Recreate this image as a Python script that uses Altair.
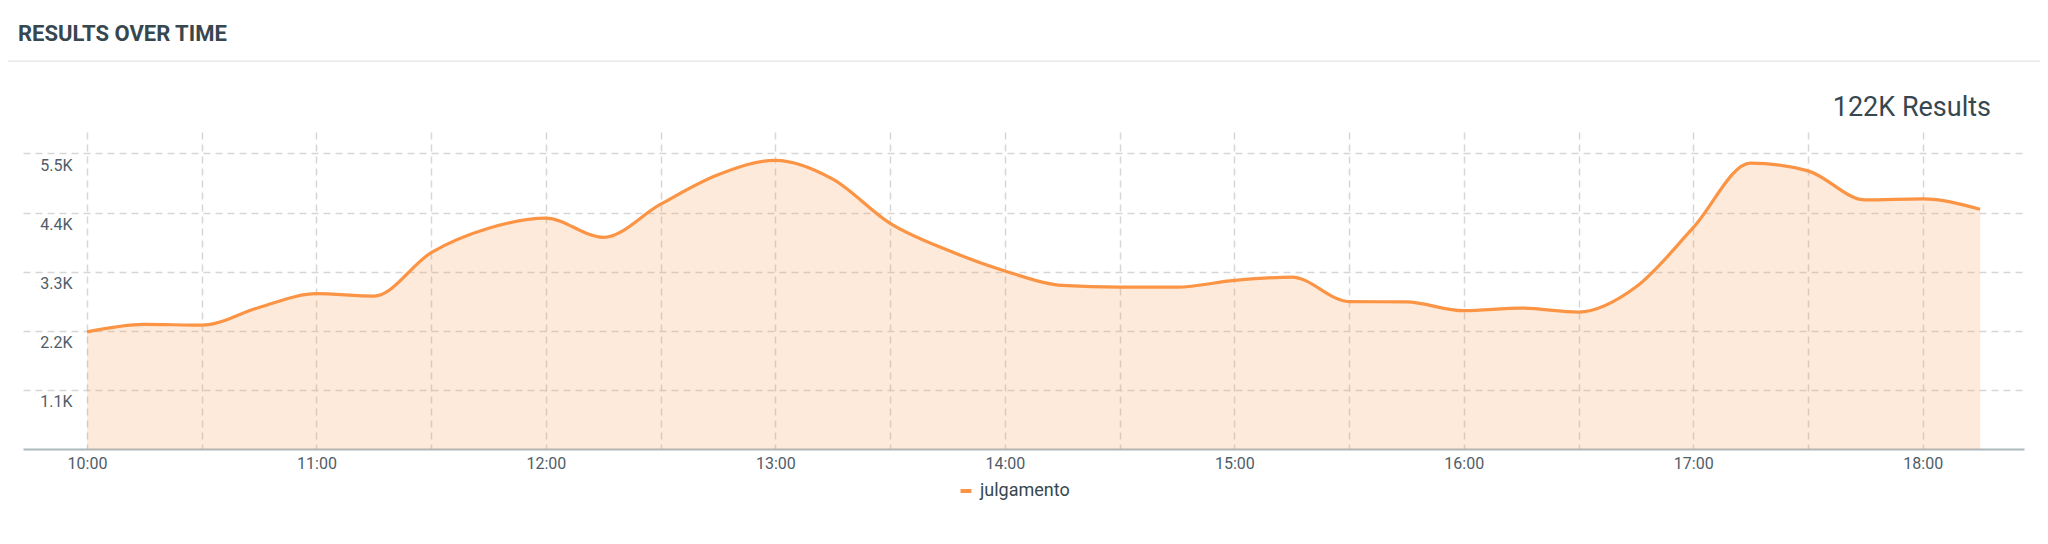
import altair as alt
import pandas as pd

# ---- data (15-minute buckets) ----
times = ["10:00", "10:15", "10:30", "10:45", "11:00", "11:15", "11:30", "11:45",
         "12:00", "12:15", "12:30", "12:45", "13:00", "13:15", "13:30", "13:45",
         "14:00", "14:15", "14:30", "14:45", "15:00", "15:15", "15:30", "15:45",
         "16:00", "16:15", "16:30", "16:45", "17:00", "17:15", "17:30", "17:45",
         "18:00", "18:15"]
counts = [2180, 2320, 2305, 2635, 2890, 2846, 3654, 4108,
          4297, 3939, 4556, 5104, 5372, 5023, 4200, 3702,
          3314, 3044, 3012, 3012, 3137, 3200, 2744, 2737,
          2574, 2622, 2548, 3014, 4120, 5320, 5177, 4636,
          4655, 4462]
series_name = "julgamento"

x_tick_times = ["10:00", "10:30", "11:00", "11:30", "12:00", "12:30", "13:00", "13:30",
                "14:00", "14:30", "15:00", "15:30", "16:00", "16:30", "17:00", "17:30",
                "18:00"]
y_ticks = [1100, 2200, 3300, 4400, 5500]
x_domain_times = ["09:43:16", "18:26:29"]
y_max = 5900

title_text = "RESULTS OVER TIME"
total_text = "122K Results"

DAY = "2024-01-01"


def to_dt(hms):
    parts = [int(p) for p in hms.split(":")]
    while len(parts) < 3:
        parts.append(0)
    y, m, d = [int(p) for p in DAY.split("-")]
    return alt.DateTime(year=y, month=m, date=d, hours=parts[0], minutes=parts[1], seconds=parts[2])


df = pd.DataFrame({
    "time": [f"{DAY}T{t}:00" for t in times],
    "count": counts,
    "series": [series_name] * len(times),
})
header_df = pd.DataFrame({"title": [title_text], "total": [total_text]})

LINE = "#fb9444"
TEXT = "#37474f"
AXIS_TEXT = "#4f5d68"
GRID = "#d6d6d6"

x_enc = alt.X(
    "time:T",
    scale=alt.Scale(domain=[to_dt(t) for t in x_domain_times], nice=False),
    axis=alt.Axis(
        values=[to_dt(t) for t in x_tick_times],
        labelExpr="minutes(datum.value) == 0 ? timeFormat(datum.value, '%H:%M') : ''",
        labelOverlap=False,
        grid=True, gridDash=[7, 5], gridColor=GRID, gridWidth=1.5,
        domainColor="#aeb7bb", domainWidth=2,
        ticks=False, labelFontSize=16, labelColor=AXIS_TEXT, labelPadding=6,
        labelFont="Roboto", title=None,
    ),
)
y_enc = alt.Y(
    "count:Q",
    scale=alt.Scale(domain=[0, y_max], nice=False),
    axis=alt.Axis(
        values=y_ticks,
        labelExpr="format(datum.value / 1000, '.1f') + 'K'",
        domain=False, ticks=False, tickSize=0,
        labelPadding=-49, labelAlign="right", labelBaseline="middle", labelOffset=12,
        grid=True, gridDash=[7, 5], gridColor=GRID, gridWidth=1.5,
        labelFontSize=16, labelColor=AXIS_TEXT, labelFont="Roboto", title=None,
    ),
)

base = alt.Chart(df)

area = base.mark_area(interpolate="monotone", color=LINE, opacity=0.2).encode(x=x_enc, y=y_enc)

line = base.mark_line(interpolate="monotone", strokeWidth=3.2).encode(
    x="time:T",
    y="count:Q",
    color=alt.Color(
        "series:N",
        scale=alt.Scale(range=[LINE]),
        legend=alt.Legend(
            orient="none", legendX=934, legendY=350, title=None,
            symbolType="stroke", symbolStrokeWidth=4, symbolSize=121,
            labelFontSize=18, labelColor=TEXT, labelFont="Roboto", labelOffset=5,
            padding=0,
        ),
    ),
)

title_mark = alt.Chart(header_df).mark_text(
    align="left", baseline="alphabetic", font="Roboto", fontSize=22,
    fontWeight="bold", color=TEXT,
).encode(text="title:N", x=alt.value(-5), y=alt.value(-91))

separator = alt.Chart(header_df).mark_rule(color="#e9e9e9", strokeWidth=1.5).encode(
    x=alt.value(-15), x2=alt.value(2017), y=alt.value(-70.7)
)

total_mark = alt.Chart(header_df).mark_text(
    align="right", baseline="alphabetic", font="Roboto", fontSize=27, color=TEXT,
).encode(text="total:N", x=alt.value(1968), y=alt.value(-15.7))

chart = alt.layer(area, line, title_mark, separator, total_mark).properties(
    width=2001,
    height=317,
    padding={"left": 15, "top": 124, "right": 16, "bottom": 80},
    autosize=alt.AutoSizeParams(type="none"),
    background="white",
).configure(font="Roboto").configure_view(strokeWidth=0)

chart.save("out.html", embed_options={"renderer": "svg", "actions": False})
